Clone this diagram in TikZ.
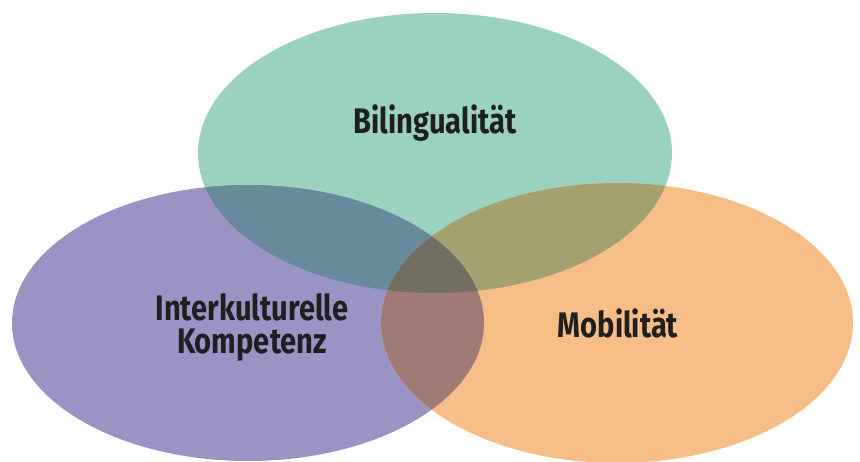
\documentclass[tikz,border=0pt]{standalone}
\usepackage{fontspec}
\setmainfont{Fira Sans}[FakeStretch=0.82]
\begin{document}
\begin{tikzpicture}[x=1pt,y=1pt,
  lbl/.style={font=\bfseries\fontsize{35.5}{33}\selectfont, text=black!88, align=center, inner sep=0pt}]
\useasboundingbox (0,0) rectangle (860,461);
\def\topE{(435,308) ellipse [x radius=237, y radius=140]}
\def\leftE{(248,138) ellipse [x radius=236, y radius=138]}
\def\rightE{(617,138) ellipse [x radius=236, y radius=140]}
\definecolor{cG}{HTML}{9AD1BF}
\definecolor{cP}{HTML}{9A94C5}
\definecolor{cO}{HTML}{F7BD86}
\definecolor{cGP}{HTML}{688A9B}
\definecolor{cGO}{HTML}{A2A16F}
\definecolor{cPO}{HTML}{A07A74}
\definecolor{cGPO}{HTML}{726E60}
\fill[cG] \topE;
\fill[cP] \leftE;
\fill[cO] \rightE;
\begin{scope}\clip \topE; \fill[cGP] \leftE; \end{scope}
\begin{scope}\clip \topE; \fill[cGO] \rightE; \end{scope}
\begin{scope}\clip \leftE; \fill[cPO] \rightE; \end{scope}
\begin{scope}\clip \topE; \clip \leftE; \fill[cGPO] \rightE; \end{scope}
\node[lbl] (bil) at (435,338) {Bilingualität};
\node[lbl] (mob) at (618,138) {Mobilität};
\node[lbl] (ik) at (252,134) {Interkulturelle\\Kompetenz};
\end{tikzpicture}
\end{document}
